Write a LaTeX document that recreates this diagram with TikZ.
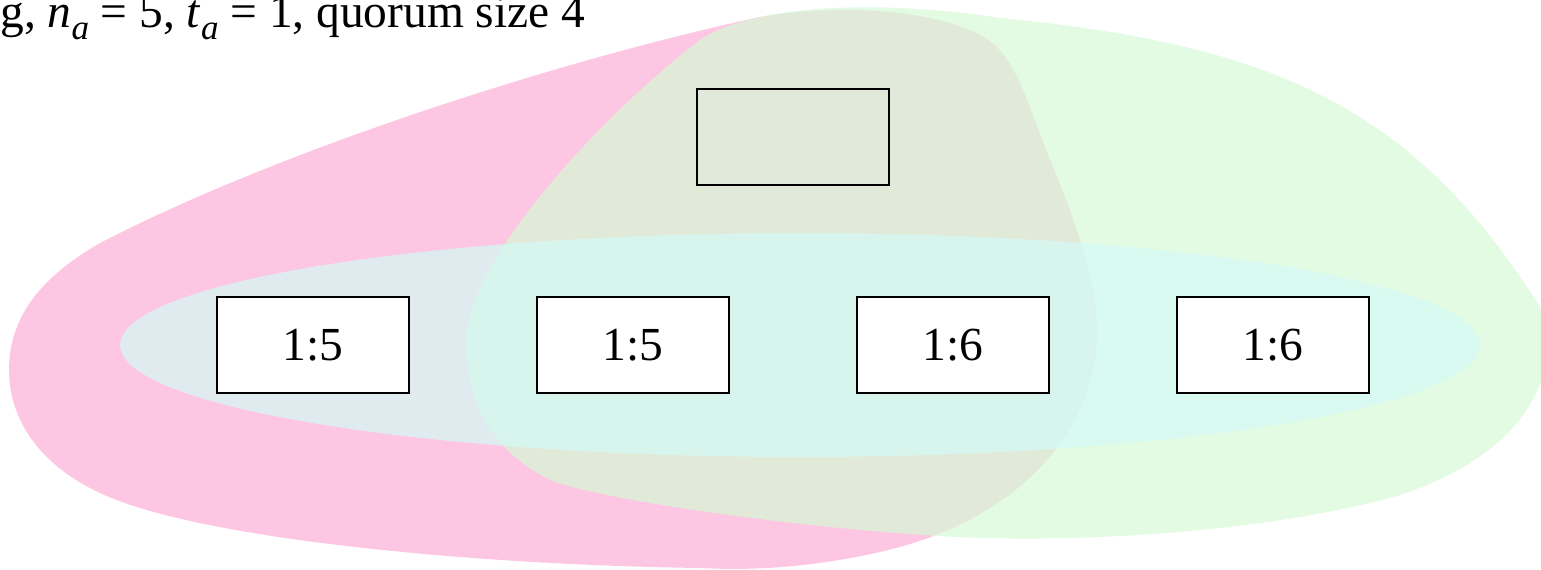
\documentclass[tikz,border=0pt]{standalone}
\usepackage{fontspec}
\setmainfont{Liberation Serif}
\usetikzlibrary{positioning}
\definecolor{cPink}{RGB}{253,198,226}
\definecolor{cGreen}{RGB}{214,249,214}
\definecolor{cCyan}{RGB}{212,251,246}
\newcommand{\lowidx}[1]{\raisebox{-0.27em}{\fontsize{20}{20}\selectfont\textit{#1}}}
\tikzset{
	% quorum regions
	setA/.style   ={fill=cPink},
	setB/.style   ={fill=cGreen, fill opacity=0.7},
	setC/.style   ={fill=cCyan, fill opacity=0.7},
	% acceptor boxes
	replica/.style={rectangle, draw=black, line width=1.1pt, fill=white, minimum width=3.84cm, minimum height=1.92cm, inner sep=0pt},
	leader/.style ={rectangle, draw=black, line width=1.1pt, minimum width=3.84cm, minimum height=1.92cm, inner sep=0pt},
}

\begin{document}
\begin{tikzpicture}[x=0.02cm, y=-0.02cm]
	\fontsize{27}{32}\selectfont
	\useasboundingbox (0,0) rectangle (1541,569);
	\begin{scope}
		\clip (0,0) rectangle (1541,569);
		% left quorum
		\fill[setA] (9,370) .. controls (9,310) and (50,272) .. (100,243)
			.. controls (280,150) and (560,60) .. (760,17)
			.. controls (860,0) and (960,15) .. (995,45)
			.. controls (1020,70) and (1030,110) .. (1050,160)
			.. controls (1080,230) and (1097,290) .. (1097,330)
			.. controls (1097,430) and (1020,520) .. (880,552)
			.. controls (800,570) and (740,570) .. (700,568)
			.. controls (480,565) and (200,540) .. (100,493)
			.. controls (40,465) and (9,420) .. (9,370) -- cycle;
		% right quorum
		\fill[setB] (466,340) .. controls (470,250) and (620,100) .. (700,40)
			.. controls (760,0) and (900,2) .. (1000,18)
			.. controls (1280,45) and (1420,110) .. (1548,320)
			.. controls (1556,410) and (1490,465) .. (1400,495)
			.. controls (1280,530) and (1080,545) .. (940,536)
			.. controls (800,528) and (600,500) .. (550,480)
			.. controls (490,450) and (466,400) .. (466,340) -- cycle;
		% middle quorum
		\fill[setC] (800,345) ellipse [x radius=13.6cm, y radius=2.24cm];
	\end{scope}
	\node[anchor=base west, inner sep=0pt] (caption) at (0,27)
		{g, \textit{n}\lowidx{a} = 5, \textit{t}\lowidx{a} = 1, quorum size 4};
	\node[leader] (top) at (793,137) {};
	\foreach \n/\l in {0/1:5, 1/1:5, 2/1:6, 3/1:6}
		\node[replica] (r\n) at (313+320*\n,345) {\l};
\end{tikzpicture}
\end{document}
